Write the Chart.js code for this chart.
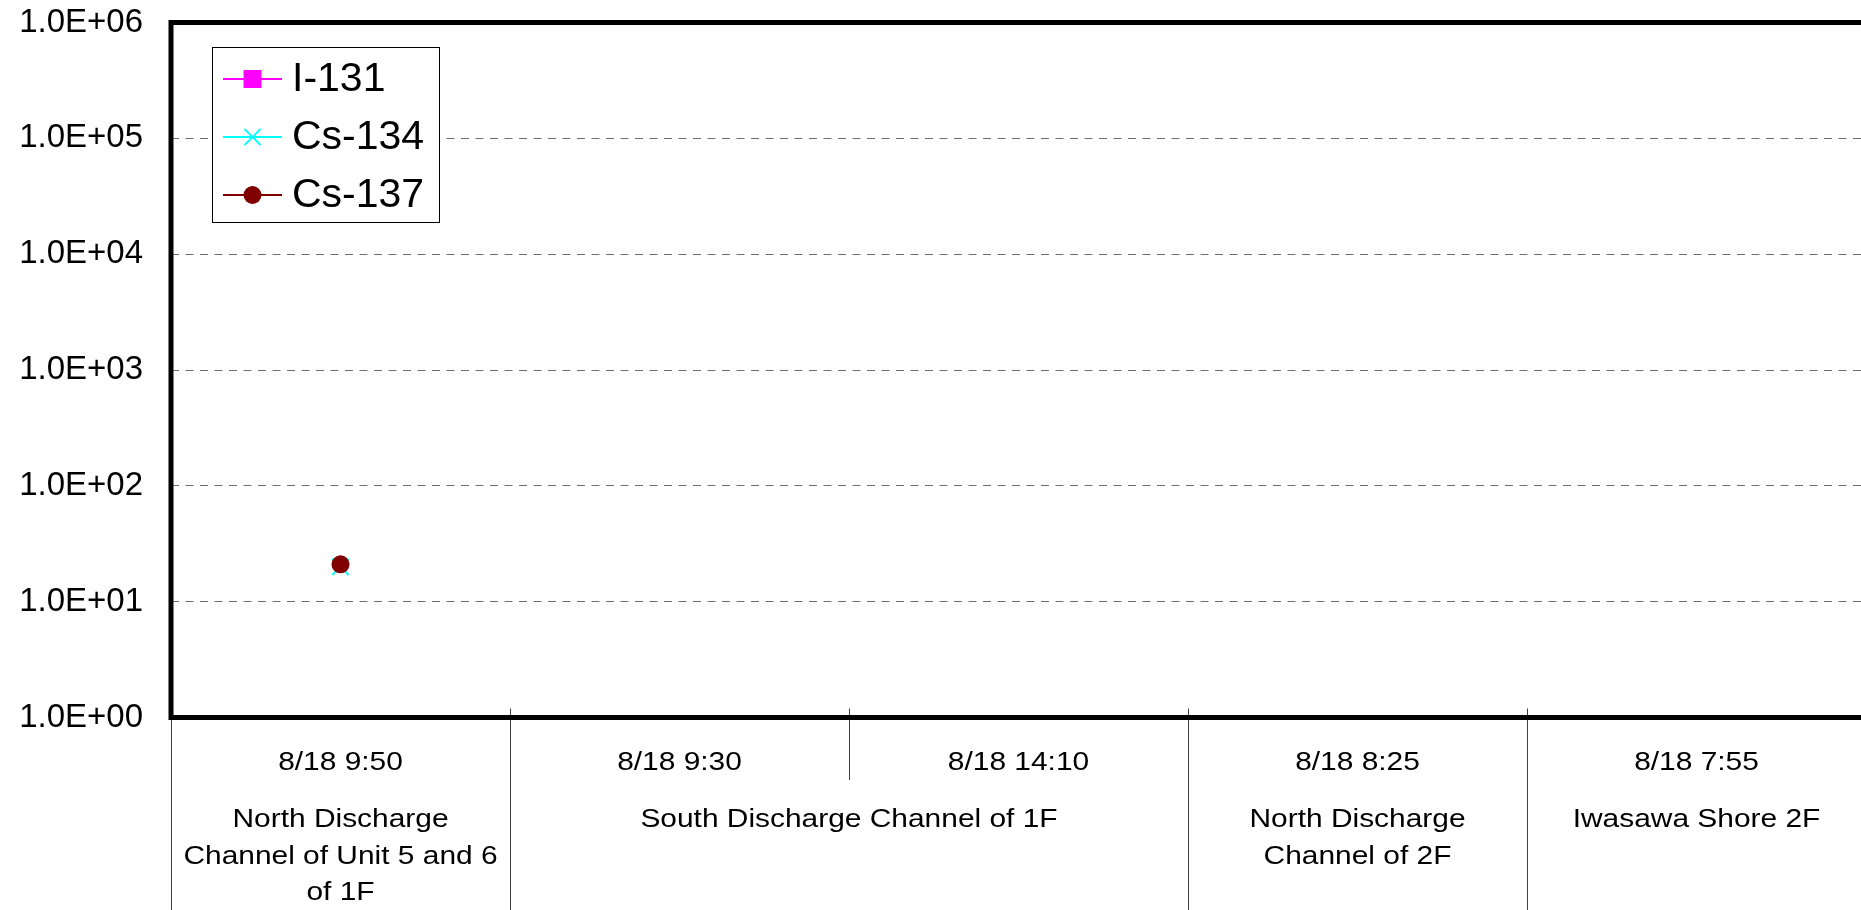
<!DOCTYPE html>
<html>
<head>
<meta charset="utf-8">
<script src="https://cdn.jsdelivr.net/npm/chart.js@4.4.1/dist/chart.umd.min.js"></script>
<style>
  html, body { margin: 0; padding: 0; background: #fff; overflow: hidden; }
  #wrap { width: 1861px; height: 910px; overflow: hidden; position: relative; }
  #chart { display: block; }
</style>
</head>
<body>
<div id="wrap"><canvas id="chart" width="1866" height="910" style="width:1866px;height:910px"></canvas></div>
<script>
// sampling date/time of each point (first row under the axis)
var sampleDates = ['8/18 9:50', '8/18 9:30', '8/18 14:10', '8/18 8:25', '8/18 7:55'];
// sampling places (second row), each one covers locationSpans[i] dates
var locations = [
    ['North Discharge', 'Channel of Unit 5 and 6', 'of 1F'],
    ['South Discharge Channel of 1F'],
    ['North Discharge', 'Channel of 2F'],
    ['Iwasawa Shore 2F']
];
var locationSpans = [1, 2, 1, 1];

// concentrations, null = not detected
var i131 = [null, null, null, null, null];
var cs134 = [20, null, null, null, null];
var cs137 = [21, null, null, null, null];

// decades shown on the log axis
var yTicks = [1, 10, 100, 1000, 10000, 100000, 1000000];

var FONT = "'Liberation Sans', Arial, sans-serif";

//Format a value like 1.0E+05
function sci(v) {
    var e = Math.round(Math.log10(v));
    var m = v / Math.pow(10, e);
    return m.toFixed(1) + 'E' + (e < 0 ? '-' : '+') + String(Math.abs(e)).padStart(2, '0');
}

//Draw one marker the way the series draws it
function drawMarker(ctx, ds, x, y) {
    var r = ds.pointRadius;
    ctx.save();
    ctx.fillStyle = ds.pointBackgroundColor;
    ctx.strokeStyle = ds.pointBorderColor;
    ctx.lineWidth = ds.pointBorderWidth;
    ctx.beginPath();
    if (ds.pointStyle === 'rect') {
        var s = r * Math.SQRT1_2;
        ctx.rect(x - s, y - s, 2 * s, 2 * s);
        ctx.fill();
    } else if (ds.pointStyle === 'crossRot') {
        var d = r * Math.SQRT1_2;
        ctx.moveTo(x - d, y - d); ctx.lineTo(x + d, y + d);
        ctx.moveTo(x - d, y + d); ctx.lineTo(x + d, y - d);
        ctx.stroke();
    } else {
        ctx.arc(x, y, r, 0, Math.PI * 2);
        ctx.fill();
    }
    ctx.restore();
}

//Legend box in the upper left corner, line + marker like the original
var boxLegend = {
    id: 'boxLegend',
    afterDraw: function(chart) {
        var ctx = chart.ctx;
        var x0 = 212.5, y0 = 47.5, w = 227, h = 175;
        ctx.save();
        ctx.fillStyle = '#fff';
        ctx.fillRect(x0, y0, w, h);
        ctx.strokeStyle = '#000';
        ctx.lineWidth = 1;
        ctx.strokeRect(x0, y0, w, h);
        chart.data.datasets.forEach(function(ds, i) {
            var y = 79 + i * 58;
            ctx.strokeStyle = ds.borderColor;
            ctx.lineWidth = 2;
            ctx.beginPath();
            ctx.moveTo(223, y);
            ctx.lineTo(282, y);
            ctx.stroke();
            drawMarker(ctx, ds, 252.5, y);
            ctx.fillStyle = '#000';
            ctx.font = '41px ' + FONT;
            ctx.textAlign = 'left';
            ctx.textBaseline = 'middle';
            ctx.fillText(ds.label, 292, y + 1);
        });
        ctx.restore();
    }
};

//Two-row category table under the plot plus the thick frame
var tableAxis = {
    id: 'tableAxis',
    afterDraw: function(chart) {
        var ctx = chart.ctx;
        var area = chart.chartArea;
        var xs = chart.scales.x;
        var n = sampleDates.length;
        var step = (area.right - area.left) / n;
        var bottom = chart.height;

        // which boundaries close a location group
        var groupEdges = {};
        var acc = 0;
        locationSpans.forEach(function(s) { acc += s; groupEdges[acc] = true; });

        ctx.save();
        ctx.strokeStyle = '#404040';
        ctx.lineWidth = 1;
        ctx.beginPath();
        ctx.moveTo(Math.round(area.left) + 0.5, area.bottom);
        ctx.lineTo(Math.round(area.left) + 0.5, bottom);
        for (var i = 1; i < n; i++) {
            var bx = Math.round(area.left + i * step) + 0.5;
            ctx.moveTo(bx, area.bottom - 9);
            ctx.lineTo(bx, groupEdges[i] ? bottom : 780);
        }
        ctx.stroke();

        ctx.fillStyle = '#000';
        ctx.font = '26px ' + FONT;
        ctx.textAlign = 'center';
        ctx.textBaseline = 'alphabetic';
        function stretchText(t, x, y) {
            ctx.save();
            ctx.translate(x, y);
            ctx.scale(1.15, 1);
            ctx.fillText(t, 0, 0);
            ctx.restore();
        }
        sampleDates.forEach(function(d, i) {
            stretchText(d, xs.getPixelForValue(i), 770);
        });
        var start = 0;
        locations.forEach(function(lines, g) {
            var end = start + locationSpans[g] - 1;
            var cx = (xs.getPixelForValue(start) + xs.getPixelForValue(end)) / 2;
            lines.forEach(function(t, k) {
                stretchText(t, cx, 827 + k * 36.5);
            });
            start = end + 1;
        });

        // heavy frame round the plot area
        ctx.strokeStyle = '#000';
        ctx.lineWidth = 5;
        ctx.strokeRect(area.left, area.top, area.right - area.left, area.bottom - area.top);
        ctx.restore();
    }
};

//Keep the scales from reserving extra room for their end labels
function noScalePadding(scale) {
    scale.paddingTop = 0;
    scale.paddingBottom = 0;
    scale.paddingLeft = 0;
    scale.paddingRight = 0;
}

new Chart(document.getElementById('chart'), {
    type: 'line',
    data: {
        labels: sampleDates,
        datasets: [
            {
                label: 'I-131', data: i131, order: 3,
                borderColor: '#FF00FF', backgroundColor: '#FF00FF',
                pointStyle: 'rect', pointRadius: 12.7,
                pointBackgroundColor: '#FF00FF', pointBorderColor: '#FF00FF', pointBorderWidth: 0,
                borderWidth: 1.5
            },
            {
                label: 'Cs-134', data: cs134, order: 2,
                borderColor: '#00FFFF', backgroundColor: '#00FFFF',
                pointStyle: 'crossRot', pointRadius: 11.5,
                pointBackgroundColor: '#00FFFF', pointBorderColor: '#00FFFF', pointBorderWidth: 2,
                borderWidth: 1.5
            },
            {
                label: 'Cs-137', data: cs137, order: 1,
                borderColor: '#800000', backgroundColor: '#800000',
                pointStyle: 'circle', pointRadius: 9,
                pointBackgroundColor: '#800000', pointBorderColor: '#800000', pointBorderWidth: 0,
                borderWidth: 1.5
            }
        ]
    },
    options: {
        responsive: false,
        devicePixelRatio: 1,
        animation: false,
        events: [],
        layout: { autoPadding: false, padding: { top: 22.5, bottom: 192.5, left: 0, right: 0 } },
        plugins: {
            legend: { display: false },
            tooltip: { enabled: false }
        },
        scales: {
            x: {
                type: 'category',
                display: false,
                offset: true,
                afterFit: noScalePadding
            },
            y: {
                type: 'logarithmic',
                min: 1,
                max: 1000000,
                afterBuildTicks: function(scale) {
                    scale.ticks = yTicks.map(function(v) { return { value: v }; });
                },
                afterFit: function(scale) {
                    scale.width = 171;
                    noScalePadding(scale);
                },
                ticks: {
                    color: '#000',
                    padding: 28,
                    font: { family: FONT, size: 33 },
                    callback: function(v) { return sci(v); }
                },
                grid: { color: '#6e6e6e', lineWidth: 1, drawTicks: false },
                border: { display: false, dash: [8, 6.5] }
            }
        }
    },
    plugins: [tableAxis, boxLegend]
});
</script>
</body>
</html>
